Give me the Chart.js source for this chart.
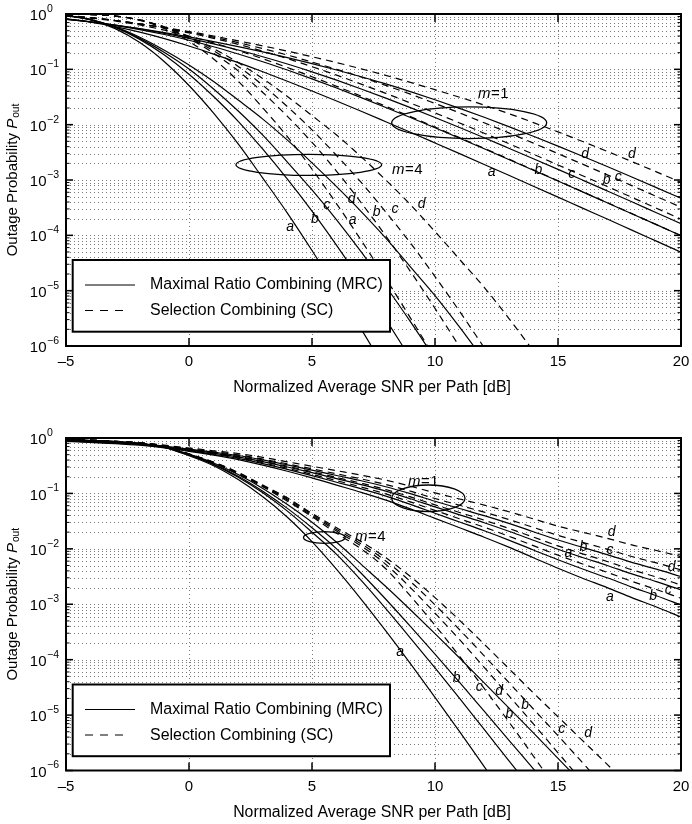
<!DOCTYPE html>
<html><head><meta charset="utf-8">
<script src="https://cdn.jsdelivr.net/npm/chart.js@4/dist/chart.umd.min.js"></script>
<style>
html,body{margin:0;padding:0;background:#fff;}
#wrap{position:relative;width:692px;height:824px;background:#fff;}
canvas{position:absolute;left:0;}
</style></head><body>
<div id="wrap">
<canvas id="c1" width="692" height="412" style="top:0px"></canvas>
<canvas id="c2" width="692" height="412" style="top:412px"></canvas>
</div>
<script>
// ---------- data (as log10 of outage probability) ----------
const snrDb = [-5,-4,-3,-2,-1,0,1,2,3,4,5,6,7,8,9,10,11,12,13,14,15,16,17,18,19,20];
const xTickValues = [-5,0,5,10,15,20];
const yDecadeExponents = [0,-1,-2,-3,-4,-5,-6];

// top panel, m = 1
const top_mrc_m1_a = [-0.084,-0.146,-0.227,-0.328,-0.445,-0.578,-0.724,-0.879,-1.043,-1.215,-1.391,-1.573,-1.758,-1.947,-2.137,-2.330,-2.524,-2.719,-2.915,-3.112,-3.310,-3.509,-3.706,-3.906,-4.105,-4.304];
const top_mrc_m1_b = [-0.091,-0.141,-0.204,-0.281,-0.371,-0.475,-0.592,-0.722,-0.862,-1.013,-1.172,-1.338,-1.511,-1.689,-1.871,-2.057,-2.245,-2.436,-2.629,-2.823,-3.018,-3.215,-3.412,-3.609,-3.807,-4.006];
const top_mrc_m1_c = [-0.095,-0.142,-0.201,-0.270,-0.350,-0.440,-0.540,-0.651,-0.772,-0.904,-1.045,-1.196,-1.355,-1.521,-1.693,-1.871,-2.052,-2.237,-2.426,-2.616,-2.808,-3.002,-3.197,-3.393,-3.591,-3.788];
const top_mrc_m1_d = [-0.098,-0.145,-0.200,-0.264,-0.336,-0.414,-0.499,-0.590,-0.686,-0.789,-0.897,-1.012,-1.134,-1.264,-1.403,-1.550,-1.705,-1.867,-2.035,-2.210,-2.388,-2.571,-2.757,-2.946,-3.137,-3.330];
const top_sc_m1_a = [-0.038,-0.074,-0.127,-0.199,-0.290,-0.398,-0.522,-0.660,-0.809,-0.967,-1.134,-1.307,-1.485,-1.668,-1.854,-2.043,-2.234,-2.427,-2.622,-2.817,-3.014,-3.211,-3.409,-3.607,-3.806,-4.004];
const top_sc_m1_b = [-0.031,-0.069,-0.117,-0.180,-0.254,-0.342,-0.440,-0.548,-0.672,-0.806,-0.952,-1.105,-1.268,-1.434,-1.609,-1.787,-1.969,-2.155,-2.343,-2.535,-2.728,-2.922,-3.117,-3.313,-3.510,-3.707];
const top_sc_m1_c = [-0.027,-0.067,-0.118,-0.180,-0.249,-0.329,-0.419,-0.517,-0.626,-0.742,-0.869,-0.999,-1.139,-1.291,-1.448,-1.616,-1.787,-1.966,-2.148,-2.334,-2.523,-2.714,-2.907,-3.101,-3.297,-3.493];
const top_sc_m1_d = [-0.023,-0.065,-0.117,-0.178,-0.246,-0.317,-0.399,-0.486,-0.576,-0.671,-0.773,-0.878,-0.991,-1.109,-1.236,-1.368,-1.504,-1.647,-1.800,-1.962,-2.131,-2.304,-2.483,-2.667,-2.853,-3.043];
// top panel, m = 4
const top_mrc_m4_a = [-0.029,-0.106,-0.264,-0.517,-0.863,-1.292,-1.791,-2.348,-2.966,-3.598,-4.274,-4.974,-5.696,-6.433];
const top_mrc_m4_b = [-0.027,-0.102,-0.245,-0.459,-0.742,-1.088,-1.492,-1.940,-2.444,-2.985,-3.563,-4.180,-4.830,-5.520,-6.220];
const top_mrc_m4_c = [-0.026,-0.101,-0.238,-0.440,-0.695,-0.994,-1.355,-1.754,-2.190,-2.677,-3.180,-3.720,-4.300,-4.920,-5.560,-6.230];
const top_mrc_m4_d = [-0.025,-0.099,-0.231,-0.420,-0.655,-0.920,-1.220,-1.556,-1.900,-2.280,-2.690,-3.120,-3.570,-4.050,-4.570,-5.090,-5.660,-6.260];
const top_sc_m4_a = [-0.001,-0.009,-0.038,-0.114,-0.262,-0.494,-0.812,-1.213,-1.695,-2.218,-2.803,-3.430,-4.091,-4.780,-5.491,-6.220];
const top_sc_m4_b = [-0.001,-0.009,-0.037,-0.110,-0.244,-0.443,-0.707,-1.028,-1.418,-1.849,-2.319,-2.842,-3.411,-4.012,-4.652,-5.320,-6.016];
const top_sc_m4_c = [-0.001,-0.010,-0.037,-0.109,-0.237,-0.424,-0.665,-0.947,-1.288,-1.675,-2.093,-2.557,-3.044,-3.580,-4.139,-4.745,-5.374,-6.030];
const top_sc_m4_d = [-0.001,-0.010,-0.037,-0.107,-0.231,-0.408,-0.627,-0.878,-1.169,-1.490,-1.836,-2.187,-2.580,-3.000,-3.445,-3.932,-4.435,-4.940,-5.500,-6.090];

// bottom panel, m = 1
const bot_mrc_m1_a = [-0.060,-0.080,-0.100,-0.130,-0.180,-0.240,-0.310,-0.390,-0.490,-0.600,-0.720,-0.850,-0.980,-1.120,-1.280,-1.450,-1.620,-1.790,-1.970,-2.160,-2.350,-2.530,-2.700,-2.880,-3.050,-3.230];
const bot_mrc_m1_b = [-0.054,-0.073,-0.092,-0.121,-0.170,-0.228,-0.294,-0.368,-0.462,-0.566,-0.678,-0.798,-0.918,-1.048,-1.198,-1.358,-1.516,-1.674,-1.842,-2.020,-2.198,-2.364,-2.522,-2.690,-2.846,-3.012];
const bot_mrc_m1_c = [-0.047,-0.064,-0.082,-0.110,-0.158,-0.213,-0.274,-0.341,-0.427,-0.524,-0.626,-0.733,-0.841,-0.958,-1.096,-1.243,-1.386,-1.529,-1.682,-1.845,-2.008,-2.157,-2.300,-2.453,-2.591,-2.740];
const bot_mrc_m1_d = [-0.040,-0.057,-0.073,-0.100,-0.147,-0.200,-0.256,-0.316,-0.396,-0.486,-0.579,-0.676,-0.772,-0.879,-1.005,-1.142,-1.272,-1.401,-1.541,-1.691,-1.841,-1.974,-2.104,-2.244,-2.367,-2.500];
const bot_sc_m1_a = [-0.051,-0.069,-0.088,-0.116,-0.165,-0.221,-0.285,-0.356,-0.447,-0.547,-0.655,-0.769,-0.884,-1.008,-1.153,-1.307,-1.459,-1.610,-1.772,-1.943,-2.114,-2.273,-2.424,-2.586,-2.734,-2.892];
const bot_sc_m1_b = [-0.044,-0.062,-0.079,-0.106,-0.154,-0.208,-0.268,-0.332,-0.416,-0.510,-0.609,-0.712,-0.816,-0.929,-1.063,-1.206,-1.344,-1.483,-1.631,-1.789,-1.947,-2.090,-2.228,-2.377,-2.509,-2.652];
const bot_sc_m1_c = [-0.037,-0.053,-0.069,-0.095,-0.141,-0.193,-0.248,-0.304,-0.381,-0.467,-0.556,-0.647,-0.738,-0.839,-0.960,-1.091,-1.214,-1.338,-1.471,-1.614,-1.757,-1.883,-2.006,-2.139,-2.254,-2.380];
const bot_sc_m1_d = [-0.030,-0.045,-0.060,-0.085,-0.130,-0.180,-0.230,-0.280,-0.350,-0.430,-0.510,-0.590,-0.670,-0.760,-0.870,-0.990,-1.100,-1.210,-1.330,-1.460,-1.590,-1.700,-1.810,-1.930,-2.030,-2.140];
// bottom panel, m = 4
const bot_mrc_m4_a = [-0.030,-0.045,-0.066,-0.100,-0.170,-0.320,-0.500,-0.750,-1.060,-1.430,-1.870,-2.370,-2.910,-3.480,-4.070,-4.680,-5.300,-5.930,-6.560];
const bot_mrc_m4_b = [-0.030,-0.045,-0.066,-0.100,-0.168,-0.310,-0.480,-0.710,-0.990,-1.320,-1.700,-2.100,-2.570,-3.080,-3.610,-4.150,-4.700,-5.260,-5.820,-6.380];
const bot_mrc_m4_c = [-0.030,-0.045,-0.066,-0.100,-0.166,-0.300,-0.470,-0.690,-0.960,-1.270,-1.620,-2.000,-2.440,-2.910,-3.400,-3.900,-4.410,-4.930,-5.450,-5.970,-6.490];
const bot_mrc_m4_d = [-0.030,-0.045,-0.066,-0.100,-0.164,-0.290,-0.450,-0.660,-0.910,-1.200,-1.520,-1.880,-2.280,-2.680,-3.100,-3.530,-3.970,-4.420,-4.870,-5.320,-5.780,-6.240];
const bot_sc_m4_a = [-0.025,-0.040,-0.060,-0.090,-0.150,-0.300,-0.450,-0.650,-0.880,-1.140,-1.420,-1.720,-2.000,-2.360,-2.850,-3.380,-3.940,-4.520,-5.120,-5.740,-6.370];
const bot_sc_m4_b = [-0.025,-0.040,-0.060,-0.090,-0.148,-0.295,-0.445,-0.640,-0.870,-1.120,-1.400,-1.680,-1.950,-2.280,-2.700,-3.160,-3.640,-4.140,-4.650,-5.160,-5.680,-6.200];
const bot_sc_m4_c = [-0.025,-0.040,-0.060,-0.090,-0.146,-0.290,-0.440,-0.630,-0.860,-1.100,-1.380,-1.650,-1.910,-2.220,-2.590,-3.010,-3.460,-3.930,-4.410,-4.890,-5.370,-5.860,-6.350];
const bot_sc_m4_d = [-0.025,-0.040,-0.060,-0.090,-0.144,-0.285,-0.435,-0.620,-0.850,-1.080,-1.360,-1.620,-1.870,-2.160,-2.500,-2.880,-3.290,-3.720,-4.160,-4.600,-5.030,-5.460,-5.890,-6.330];

// curve labels: [letter, dB, log10 P]
const top_labels = [
  ['a',12.30,-2.857],['b',14.20,-2.826],['c',15.56,-2.886],['d',16.10,-2.524],
  ['b',16.98,-3.007],['c',17.45,-2.947],['d',18.00,-2.524],
  ['a',4.11,-3.853],['b',5.12,-3.701],['c',5.60,-3.460],['d',6.61,-3.339],
  ['a',6.65,-3.719],['b',7.63,-3.582],['c',8.37,-3.520],['d',9.46,-3.429]
];
const bot_labels = [
  ['d',17.18,-1.691],['b',16.03,-1.962],['c',17.11,-2.022],['a',15.42,-2.082],
  ['d',19.62,-2.323],['c',19.48,-2.744],['b',18.87,-2.852],['a',17.11,-2.864],
  ['a',8.58,-3.857],['b',10.88,-4.338],['c',11.80,-4.500],['d',12.61,-4.561],
  ['b',13.02,-4.982],['b',13.66,-4.819],['c',15.15,-5.253],['d',16.23,-5.319]
];
// ellipses: [centre dB, centre log10 P, half width dB, half height decades]
const top_ellipses = [[11.39,-1.966,3.15,0.286],[4.87,-2.726,2.96,0.19]];
const bot_ellipses = [[9.73,-1.088,1.49,0.24],[5.50,-1.796,0.846,0.105]];
// m-value texts: [m, dB, log10 P] (left edge, vertical centre)
const top_mtexts = [['1',11.75,-1.449],['4',8.25,-2.808]];
const bot_mtexts = [['1',8.90,-0.794],['4',6.75,-1.787]];

const legendLabels = ['Maximal Ratio Combining (MRC)','Selection Combining (SC)'];
const xTitle = 'Normalized Average SNR per Path [dB]';
const yTitle = 'Outage Probability ';

// ---------- rendering ----------
const FONT = '"Liberation Sans", Arial, Helvetica, sans-serif';
const DASH = [7,5];

function toPoints(logs){ return logs.map((L,i)=>({x:snrDb[i], y:Math.pow(10,L)})); }
function mkDs(logs, dashed){
  return {data:toPoints(logs), borderColor:'#000', borderWidth:1.2, borderDash: dashed?DASH:[],
          pointRadius:0, pointHoverRadius:0, fill:false, cubicInterpolationMode:'monotone'};
}

function framePlugin(ann){
  return {
    id:'frame'+ann.id,
    beforeDatasetsDraw(chart){
      const {ctx, chartArea:a, scales:{x,y}} = chart;
      ctx.save();
      ctx.strokeStyle = '#7a7a7a'; ctx.lineWidth = 1; ctx.setLineDash([1,3]);
      for (let e=-6; e<0; e++){
        for (let k=1; k<=9; k++){
          if (e===-6 && k===1) continue;
          const py = Math.round(y.getPixelForValue(k*Math.pow(10,e)))+0.5;
          ctx.beginPath(); ctx.moveTo(a.left, py); ctx.lineTo(a.right, py); ctx.stroke();
        }
      }
      for (const t of xTickValues){
        if (t===xTickValues[0] || t===xTickValues[xTickValues.length-1]) continue;
        const px = Math.round(x.getPixelForValue(t))+0.5;
        ctx.beginPath(); ctx.moveTo(px, a.top); ctx.lineTo(px, a.bottom); ctx.stroke();
      }
      ctx.restore();
    },
    afterDraw(chart){
      const {ctx, chartArea:a, scales:{x,y}} = chart;
      const line=(x1,y1,x2,y2)=>{ctx.beginPath();ctx.moveTo(x1,y1);ctx.lineTo(x2,y2);ctx.stroke();};
      ctx.save();
      ctx.setLineDash([]); ctx.strokeStyle='#000'; ctx.fillStyle='#000';
      // ticks
      ctx.lineWidth=1.5;
      for (const t of xTickValues){
        const px=x.getPixelForValue(t);
        line(px,a.bottom,px,a.bottom-8); line(px,a.top,px,a.top+8);
      }
      for (let e=-6;e<=0;e++){
        for (let k=1;k<=9;k++){
          if (e===0 && k>1) break;
          const py=y.getPixelForValue(k*Math.pow(10,e));
          const len = k===1?7:3.5;
          ctx.lineWidth = k===1?1.5:1;
          line(a.left,py,a.left+len,py); line(a.right,py,a.right-len,py);
        }
      }
      // box
      ctx.lineWidth=2;
      ctx.strokeRect(a.left, a.top, a.right-a.left, a.bottom-a.top);
      // x tick labels
      ctx.font = `15px ${FONT}`; ctx.textAlign='center'; ctx.textBaseline='middle';
      for (const t of xTickValues){
        ctx.fillText(t<0 ? '\u2013'+(-t) : String(t), x.getPixelForValue(t), a.bottom+16);
      }
      // y tick labels 10^k
      for (const e of yDecadeExponents){
        const py=y.getPixelForValue(Math.pow(10,e));
        ctx.font = `15px ${FONT}`; ctx.textAlign='right'; ctx.textBaseline='middle';
        ctx.fillText('10', a.left-19.5, py+2);
        ctx.font = `10.5px ${FONT}`; ctx.textAlign='left';
        ctx.fillText(e===0 ? '0' : '\u2212'+(-e), a.left-19, py-5);
      }
      // x title
      ctx.font = `15px ${FONT}`;
      let w = ctx.measureText(xTitle).width;
      let fs = Math.max(13, Math.min(17, 15*278/w));
      ctx.font = `${fs}px ${FONT}`; ctx.textAlign='center'; ctx.textBaseline='middle';
      ctx.fillText(xTitle, (a.left+a.right)/2 - 1.5, a.bottom+42);
      // y title
      ctx.save();
      ctx.translate(12.5, (a.top+a.bottom)/2);
      ctx.rotate(-Math.PI/2);
      ctx.textAlign='left'; ctx.textBaseline='middle';
      const yfs = 15;
      ctx.font = `${yfs}px ${FONT}`; const w1 = ctx.measureText(yTitle).width;
      ctx.font = `italic ${yfs}px ${FONT}`; const w2 = ctx.measureText('P').width;
      ctx.font = `${yfs*0.68}px ${FONT}`; const w3 = ctx.measureText('out').width;
      const start = -(w1+w2+w3+1)/2;
      ctx.font = `${yfs}px ${FONT}`; ctx.fillText(yTitle, start, 0);
      ctx.font = `italic ${yfs}px ${FONT}`; ctx.fillText('P', start+w1, 0);
      ctx.font = `${yfs*0.68}px ${FONT}`; ctx.fillText('out', start+w1+w2+1, 4);
      ctx.restore();
      // ellipses
      ctx.lineWidth=1.3;
      for (const [cx,cy,rx,ry] of ann.ellipses){
        const px=x.getPixelForValue(cx), py=y.getPixelForValue(Math.pow(10,cy));
        const rpx = x.getPixelForValue(cx+rx)-px;
        const rpy = y.getPixelForValue(Math.pow(10,cy-ry))-py;
        ctx.beginPath(); ctx.ellipse(px,py,rpx,rpy,0,0,Math.PI*2); ctx.stroke();
      }
      // m texts
      ctx.textBaseline='middle'; ctx.textAlign='left';
      for (const [m,dx,dy] of ann.mtexts){
        const px=x.getPixelForValue(dx), py=y.getPixelForValue(Math.pow(10,dy));
        ctx.font = `italic 15px ${FONT}`; ctx.fillText('m', px, py);
        const wm = ctx.measureText('m').width;
        ctx.font = `15px ${FONT}`; ctx.fillText('=', px+wm+0.5, py);
        const we = ctx.measureText('=').width;
        ctx.fillText(m, px+wm+we+1, py);
      }
      // curve letters
      ctx.font = `italic 14px ${FONT}`; ctx.textAlign='center';
      for (const [t,dx,dy] of ann.labels){
        ctx.fillText(t, x.getPixelForValue(dx), y.getPixelForValue(Math.pow(10,dy)));
      }
      // legend
      const lx=a.left+6.7, ly=a.bottom-86, lw=317.3, lh=71.7;
      ctx.fillStyle='#fff'; ctx.fillRect(lx,ly,lw,lh);
      ctx.lineWidth=2; ctx.strokeStyle='#000'; ctx.strokeRect(lx,ly,lw,lh);
      ctx.fillStyle='#000';
      const r1=ly+25, r2=ly+50.5;
      ctx.lineWidth=1.2;
      line(a.left+19, r1, a.left+69, r1);
      ctx.setLineDash([8,7]); line(a.left+19, r2, a.left+64, r2); ctx.setLineDash([]);
      ctx.font = `15px ${FONT}`;
      w = ctx.measureText(legendLabels[0]).width;
      fs = Math.max(13, Math.min(17, 15*233/w));
      ctx.font = `${fs}px ${FONT}`; ctx.textAlign='left'; ctx.textBaseline='middle';
      ctx.fillText(legendLabels[0], a.left+84, r1);
      ctx.fillText(legendLabels[1], a.left+84, r2+0.5);
      ctx.restore();
    }
  };
}

function makeChart(id, sets, ann, padding){
  const datasets = sets.map(([logs,dashed])=>mkDs(logs,dashed));
  return new Chart(document.getElementById(id), {
    type:'line',
    data:{datasets},
    options:{
      responsive:false, animation:false, devicePixelRatio:1,
      layout:{padding},
      plugins:{legend:{display:false}, tooltip:{enabled:false}},
      events:[],
      scales:{
        x:{type:'linear', min:-5, max:20, display:false},
        y:{type:'logarithmic', min:1e-6, max:1, display:false}
      }
    },
    plugins:[framePlugin(ann)]
  });
}

makeChart('c1', [
  [top_mrc_m1_a,false],[top_mrc_m1_b,false],[top_mrc_m1_c,false],[top_mrc_m1_d,false],
  [top_sc_m1_a,true],[top_sc_m1_b,true],[top_sc_m1_c,true],[top_sc_m1_d,true],
  [top_mrc_m4_a,false],[top_mrc_m4_b,false],[top_mrc_m4_c,false],[top_mrc_m4_d,false],
  [top_sc_m4_a,true],[top_sc_m4_b,true],[top_sc_m4_c,true],[top_sc_m4_d,true]
], {id:1, ellipses:top_ellipses, mtexts:top_mtexts, labels:top_labels},
{left:66, right:11, top:14, bottom:66});

makeChart('c2', [
  [bot_mrc_m1_a,false],[bot_mrc_m1_b,false],[bot_mrc_m1_c,false],[bot_mrc_m1_d,false],
  [bot_sc_m1_a,true],[bot_sc_m1_b,true],[bot_sc_m1_c,true],[bot_sc_m1_d,true],
  [bot_mrc_m4_a,false],[bot_mrc_m4_b,false],[bot_mrc_m4_c,false],[bot_mrc_m4_d,false],
  [bot_sc_m4_a,true],[bot_sc_m4_b,true],[bot_sc_m4_c,true],[bot_sc_m4_d,true]
], {id:2, ellipses:bot_ellipses, mtexts:bot_mtexts, labels:bot_labels},
{left:66, right:11, top:26, bottom:53.5});
</script></body></html>
